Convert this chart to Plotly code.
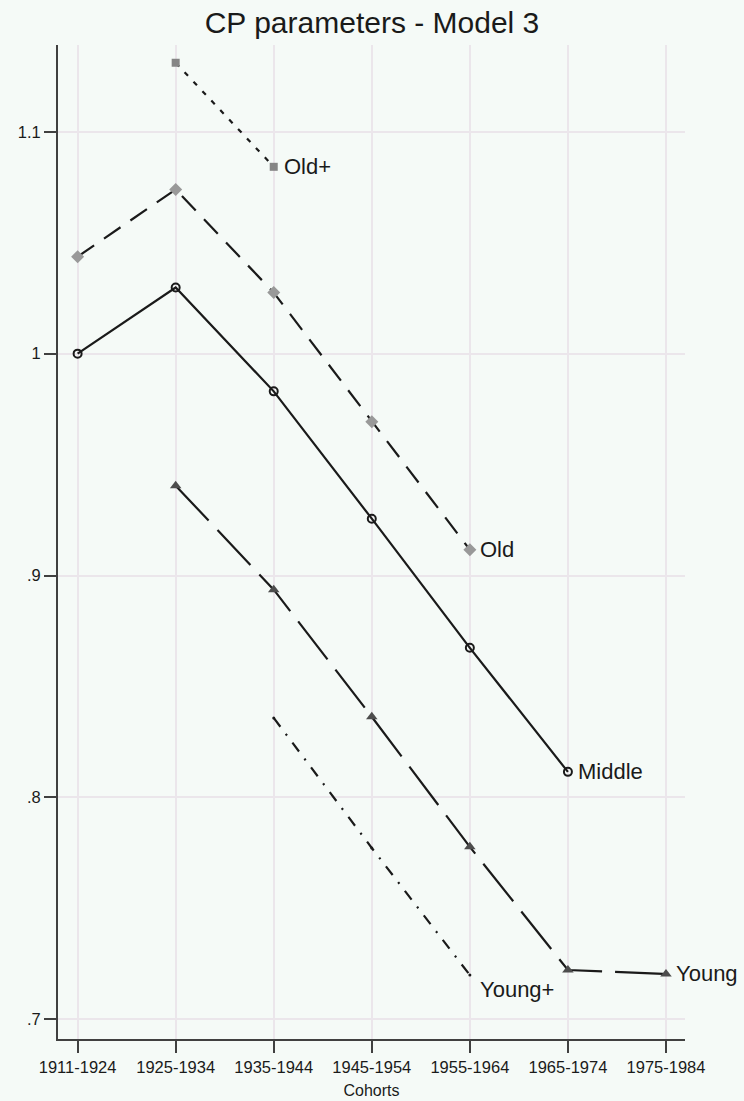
import plotly.graph_objects as go

cohorts = ["1911-1924", "1925-1934", "1935-1944", "1945-1954", "1955-1964", "1965-1974", "1975-1984"]

middle = [1.000, 1.0298, 0.983, 0.9256, 0.8674, 0.8115, None]
old = [1.0437, 1.074, 1.0275, 0.9693, 0.9116, None, None]
old_plus = [None, 1.1311, 1.0842, None, None, None, None]
young = [None, 0.9405, 0.8936, 0.8363, 0.7777, 0.7222, 0.7204]
young_plus = [None, None, 0.8358, 0.7772, 0.7199, None, None]

ytick_vals = [0.7, 0.8, 0.9, 1.0, 1.1]
ytick_text = [".7", ".8", ".9", "1", "1.1"]

FONT = "Liberation Sans, Arial, sans-serif"
BG = "#f5faf7"
GRID = "#ebe6eb"
AX = "#404040"
TXT = "#1a1a1a"

series = [
    dict(name="Middle", y=middle, dash="solid",
         marker=dict(symbol="circle-open", size=8, color=TXT, line=dict(width=2, color=TXT)),
         below=False),
    dict(name="Old", y=old, dash="20px,12px",
         marker=dict(symbol="diamond", size=10, color="#999999"),
         below=False),
    dict(name="Old+", y=old_plus, dash="5px,8px",
         marker=dict(symbol="square", size=8, color="#858585"),
         below=False),
    dict(name="Young", y=young, dash="48px,13px",
         marker=dict(symbol="triangle-up", size=10, color="#4d4d4d"),
         below=False),
    dict(name="Young+", y=young_plus, dash="11px,9px,2px,9px",
         marker=dict(symbol="circle", size=3, color=TXT),
         below=True),
]

fig = go.Figure()
for s in series:
    xs = [c for c, v in zip(cohorts, s["y"]) if v is not None]
    ys = [v for v in s["y"] if v is not None]
    fig.add_trace(go.Scatter(
        x=xs, y=ys, mode="lines+markers", name=s["name"],
        line=dict(color=TXT, width=2.2, dash=s["dash"]),
        marker=s["marker"], showlegend=False, cliponaxis=False,
    ))
    fig.add_annotation(
        x=xs[-1], y=ys[-1], text=s["name"], showarrow=False,
        xanchor="left", yanchor="top" if s["below"] else "middle",
        xshift=8,
        font=dict(family=FONT, size=22, color=TXT),
    )

fig.update_layout(
    width=744, height=1101,
    paper_bgcolor=BG, plot_bgcolor=BG,
    margin=dict(l=58, r=59, t=45, b=62),
    title=dict(text="CP parameters - Model 3", x=0.5, xanchor="center", y=1 - 22 / 1101, yanchor="middle",
               font=dict(family=FONT, size=30, color=TXT)),
    font=dict(family=FONT, color=TXT),
    xaxis=dict(
        type="category", categoryorder="array", categoryarray=cohorts,
        range=[-0.2, 6.194], showgrid=True, gridcolor=GRID, gridwidth=2,
        showline=True, linecolor=AX, linewidth=2,
        ticks="outside", ticklen=12, tickwidth=2, tickcolor=AX,
        tickfont=dict(family=FONT, size=16.5, color=TXT),
        title=dict(text="Cohorts", font=dict(family=FONT, size=16, color=TXT), standoff=10),
        zeroline=False, automargin=False,
    ),
    yaxis=dict(
        range=[0.6911, 1.1391], tickvals=ytick_vals, ticktext=ytick_text,
        showgrid=True, gridcolor=GRID, gridwidth=2,
        showline=True, linecolor=AX, linewidth=2,
        ticks="outside", ticklen=12, tickwidth=2, tickcolor=AX,
        tickfont=dict(family=FONT, size=16.5, color=TXT),
        zeroline=False, automargin=False,
    ),
)

fig.write_html(
    "out.html",
    config={"displayModeBar": False},
    post_script="document.body.style.margin='0';document.body.style.background='%s';" % BG,
)
